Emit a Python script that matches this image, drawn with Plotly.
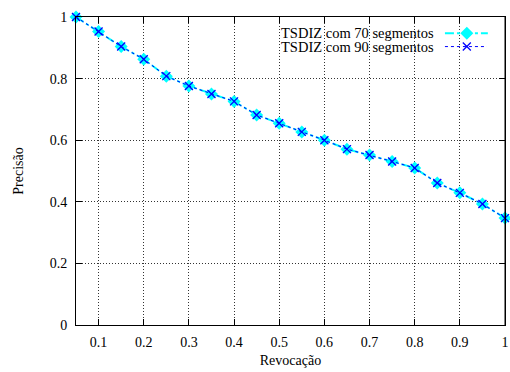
import plotly.graph_objects as go

recall = [0.05, 0.1, 0.15, 0.2, 0.25, 0.3, 0.35, 0.4, 0.45, 0.5,
          0.55, 0.6, 0.65, 0.7, 0.75, 0.8, 0.85, 0.9, 0.95, 1.0]
prec_70 = [1.0, 0.953, 0.904, 0.863, 0.808, 0.776, 0.750, 0.726, 0.682, 0.655,
           0.627, 0.600, 0.571, 0.552, 0.531, 0.510, 0.461, 0.429, 0.393, 0.347]
prec_90 = [1.0, 0.953, 0.904, 0.863, 0.808, 0.776, 0.750, 0.726, 0.682, 0.655,
           0.627, 0.600, 0.571, 0.552, 0.531, 0.510, 0.461, 0.429, 0.393, 0.347]
names = ["TSDIZ com 70 segmentos", "TSDIZ com 90 segmentos"]
x_ticks = [0.1, 0.2, 0.3, 0.4, 0.5, 0.6, 0.7, 0.8, 0.9, 1.0]
x_ticktext = ["0.1", "0.2", "0.3", "0.4", "0.5", "0.6", "0.7", "0.8", "0.9", "1"]
y_ticks = [0, 0.2, 0.4, 0.6, 0.8, 1.0]
y_ticktext = ["0", "0.2", "0.4", "0.6", "0.8", "1"]
x_range = [0.05, 1.0]
y_range = [0.0, 1.0]

FONT = "Liberation Serif"
CYAN = "#00ffff"
BLUE = "#0000ff"


def dx(f):
    """plot-area fraction -> x data value"""
    return x_range[0] + f * (x_range[1] - x_range[0])


def dy(f):
    """plot-area fraction -> y data value"""
    return y_range[0] + f * (y_range[1] - y_range[0])


fig = go.Figure()
fig.add_trace(go.Scatter(
    x=recall, y=prec_70, name=names[0], mode="lines+markers",
    line=dict(color=CYAN, width=2, dash="dashdot"),
    marker=dict(symbol="diamond", size=10, color=CYAN),
    cliponaxis=False, showlegend=False))
fig.add_trace(go.Scatter(
    x=recall, y=prec_90, name=names[1], mode="lines+markers",
    line=dict(color=BLUE, width=1, dash="3px,3px"),
    marker=dict(symbol="x-thin", size=8, color=BLUE,
                line=dict(color=BLUE, width=1.3)),
    cliponaxis=False, showlegend=False))

# legend samples (gnuplot-style: text left, sample right)
leg_y = [0.947, 0.904]
fig.add_trace(go.Scatter(
    x=[dx(0.860), dx(0.960)], y=[dy(leg_y[0])] * 2, mode="lines",
    line=dict(color=CYAN, width=2, dash="dashdot"),
    showlegend=False, hoverinfo="skip"))
fig.add_trace(go.Scatter(
    x=[dx(0.911)], y=[dy(leg_y[0])], mode="markers",
    marker=dict(symbol="diamond", size=10, color=CYAN),
    showlegend=False, hoverinfo="skip"))
fig.add_trace(go.Scatter(
    x=[dx(0.860), dx(0.958)], y=[dy(leg_y[1])] * 2, mode="lines",
    line=dict(color=BLUE, width=1, dash="3px,3px"),
    showlegend=False, hoverinfo="skip"))
fig.add_trace(go.Scatter(
    x=[dx(0.911)], y=[dy(leg_y[1])], mode="markers",
    marker=dict(symbol="x-thin", size=8, color=BLUE,
                line=dict(color=BLUE, width=1.3)),
    showlegend=False, hoverinfo="skip"))

for name, yy in zip(names, leg_y):
    fig.add_annotation(text=name, xref="x domain", yref="y domain",
                       x=0.838, y=yy, xanchor="right", yanchor="middle",
                       showarrow=False, font=dict(family=FONT, size=14.5, color="black"))

# frame line on the right side of the plot box
fig.add_shape(type="line", xref="x domain", yref="y domain",
              x0=1, x1=1, y0=0, y1=1, line=dict(color="black", width=1),
              layer="above")

axis_common = dict(
    showline=True, linecolor="black", linewidth=1, mirror="ticks",
    ticks="inside", ticklen=6, tickwidth=1, tickcolor="black",
    showgrid=True, gridcolor="#333", gridwidth=1, griddash="1px,2px",
    zeroline=False, tickfont=dict(family=FONT, size=14, color="black"),
    ticklabeloverflow="allow",
)

fig.update_layout(
    width=510, height=372,
    margin=dict(l=76, r=5, t=17, b=47, autoexpand=False),
    paper_bgcolor="white", plot_bgcolor="white",
    font=dict(family=FONT, size=14, color="black"),
    xaxis=dict(range=x_range, tickvals=x_ticks, ticktext=x_ticktext,
               title=dict(text="Revocação", font=dict(family=FONT, size=14), standoff=6),
               ticklabelstandoff=4, **axis_common),
    yaxis=dict(range=y_range, tickvals=y_ticks, ticktext=y_ticktext,
               title=dict(text="Precisão", font=dict(family=FONT, size=14), standoff=22),
               ticklabelstandoff=5, **axis_common),
)

fig.write_html(
    "out.html",
    config={"displayModeBar": False},
    post_script="document.body.style.margin='0';document.body.style.overflow='hidden';",
)
